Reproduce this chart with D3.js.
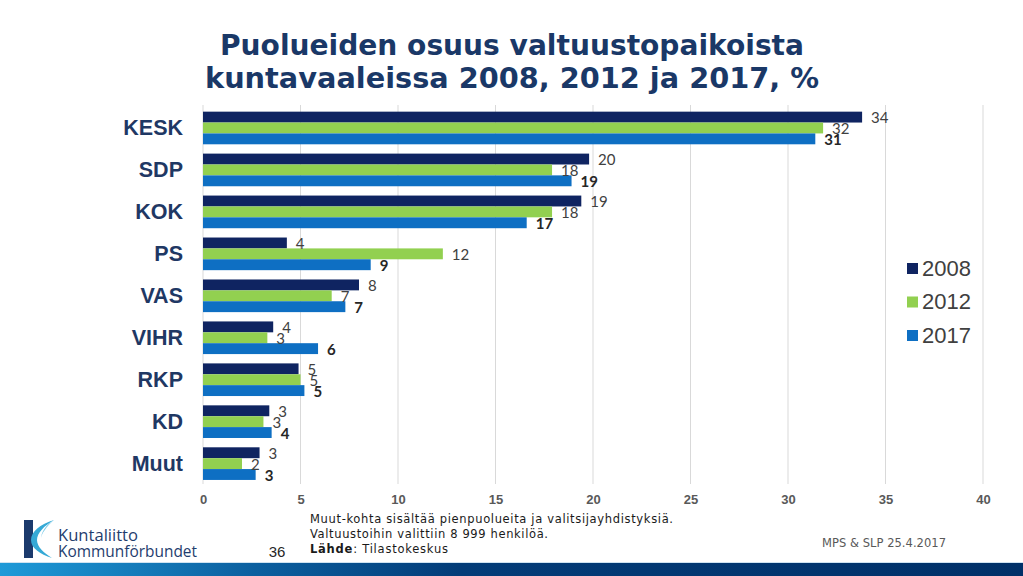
<!DOCTYPE html>
<html>
<head>
<meta charset="utf-8">
<script src="https://cdn.jsdelivr.net/npm/d3@7"></script>
<style>
  html, body { margin: 0; padding: 0; background: #fff; }
  svg { display: block; }
</style>
</head>
<body>
<svg id="chart" width="1023" height="576"></svg>
<script>
// ---- data ----
const categories = ["KESK", "SDP", "KOK", "PS", "VAS", "VIHR", "RKP", "KD", "Muut"];
const years = ["2008", "2012", "2017"];
const values2008 = [33.8, 19.8, 19.4, 4.3, 8.0, 3.6, 4.9, 3.4, 2.9];
const values2012 = [31.8, 17.9, 17.9, 12.3, 6.6, 3.3, 5.0, 3.1, 2.0];
const values2017 = [31.4, 18.9, 16.6, 8.6, 7.3, 5.9, 5.2, 3.52, 2.7];
const xTicks = [0, 5, 10, 15, 20, 25, 30, 35, 40];
const titleLines = ["Puolueiden osuus valtuustopaikoista", "kuntavaaleissa 2008, 2012 ja 2017, %"];
const noteLines = ["Muut-kohta sisältää pienpuolueita ja valitsijayhdistyksiä.", "Valtuustoihin valittiin 8 999 henkilöä."];
const sourceLabel = "Lähde";
const sourceText = ": Tilastokeskus";
const pageNumber = "36";
const authorText = "MPS & SLP 25.4.2017";
const logoLines = ["Kuntaliitto", "Kommunförbundet"];

const seriesValues = [values2008, values2012, values2017];
const colors = ["#0f2461", "#92d050", "#0e6fc3"];

const svg = d3.select("#chart");

// ---- title ----
const title = svg.append("g");
const titleW = [584, 614];
titleLines.forEach((t, i) => {
  title.append("text")
    .attr("x", 512).attr("y", 55 + i * 33)
    .attr("text-anchor", "middle")
    .attr("font-family", "DejaVu Sans")
    .attr("font-weight", "bold")
    .attr("font-size", 28)
    .attr("fill", "#1a3867")
    .attr("textLength", titleW[i])
    .attr("lengthAdjust", "spacingAndGlyphs")
    .text(t);
});

// ---- scales ----
const x = d3.scaleLinear().domain([0, 40]).range([203, 983]);
const y = d3.scaleBand().domain(categories).range([107, 484.6]).paddingInner(0.222).paddingOuter(0.111);
const ySub = d3.scaleBand().domain(years).range([0, y.bandwidth()]);

// gridlines
svg.append("g").selectAll("line").data(xTicks.slice(1)).join("line")
  .attr("x1", d => x(d)).attr("x2", d => x(d))
  .attr("y1", 105).attr("y2", 484)
  .attr("stroke", "#d9d9d9").attr("stroke-width", 1);

// axis
const xAxis = d3.axisBottom(x).tickValues(xTicks).tickSize(0).tickPadding(0);
const ax = svg.append("g").attr("transform", "translate(0,495)").call(xAxis);
ax.select(".domain").remove();
ax.selectAll("text")
  .attr("font-family", "Liberation Sans, Arial")
  .attr("font-weight", "bold")
  .attr("font-size", 13)
  .attr("fill", "#595959")
  .attr("dy", "0.71em");

// zero axis line
svg.append("line").attr("x1", x(0)).attr("x2", x(0)).attr("y1", 105).attr("y2", 484)
  .attr("stroke", "#d9d9d9");

// category labels
const yAxis = d3.axisLeft(y).tickSize(0).tickPadding(0);
const ay = svg.append("g").attr("transform", "translate(183,0)").call(yAxis);
ay.select(".domain").remove();
ay.selectAll("text")
  .attr("font-family", "Liberation Sans, Arial")
  .attr("font-weight", "bold")
  .attr("font-size", 21.5)
  .attr("fill", "#1f3864");

// bars
const rows = [];
categories.forEach((c, ci) => {
  years.forEach((yr, si) => {
    rows.push({ cat: c, year: yr, si: si, v: seriesValues[si][ci] });
  });
});

svg.append("g").selectAll("rect").data(rows).join("rect")
  .attr("x", x(0))
  .attr("y", d => y(d.cat) + ySub(d.year))
  .attr("width", d => x(d.v) - x(0))
  .attr("height", ySub.bandwidth())
  .attr("fill", d => colors[d.si]);

// data labels
svg.append("g").selectAll("text").data(rows).join("text")
  .attr("x", d => x(d.v) + 9)
  .attr("y", d => y(d.cat) + ySub(d.year) + ySub.bandwidth() / 2 + 1)
  .attr("dy", "0.35em")
  .attr("font-family", "Lato, Open Sans")
  .attr("font-size", 15)
  .attr("font-weight", d => d.si === 2 ? "bold" : "normal")
  .attr("fill", d => d.si === 2 ? "#262626" : "#404040")
  .text(d => d3.format(".0f")(d.v));

// legend
const lg = svg.append("g");
years.forEach((yr, i) => {
  const cy = 268 + i * 33.5;
  lg.append("rect").attr("x", 907).attr("y", cy - 5).attr("width", 11).attr("height", 11).attr("fill", colors[i]);
  lg.append("text").attr("x", 922).attr("y", cy).attr("dy", "0.36em")
    .attr("font-family", "Liberation Sans, Arial")
    .attr("font-size", 22)
    .attr("fill", "#404040")
    .text(yr);
});

// notes
const notes = svg.append("g").attr("font-family", "DejaVu Sans, Verdana").attr("font-size", 11.5).attr("fill", "#1a1a1a");
const noteW = [363, 238];
noteLines.forEach((t, i) => {
  notes.append("text").attr("x", 310).attr("y", 523 + i * 15)
    .attr("textLength", noteW[i]).attr("lengthAdjust", "spacing").text(t);
});
const src = notes.append("text").attr("x", 310).attr("y", 553)
  .attr("textLength", 138).attr("lengthAdjust", "spacing");
src.append("tspan").attr("font-weight", "bold").text(sourceLabel);
src.append("tspan").text(sourceText);

svg.append("text").attr("x", 277).attr("y", 557).attr("text-anchor", "middle")
  .attr("font-family", "Liberation Sans, Arial").attr("font-size", 15).attr("fill", "#262626").text(pageNumber);

svg.append("text").attr("x", 884).attr("y", 547).attr("text-anchor", "middle")
  .attr("font-family", "DejaVu Sans, Verdana").attr("font-size", 11.5).attr("fill", "#595959")
  .attr("textLength", 124).attr("lengthAdjust", "spacing").text(authorText);

// bottom band
const defs = svg.append("defs");
const grad = defs.append("linearGradient").attr("id", "band").attr("x1", "0").attr("x2", "1").attr("y1", "0").attr("y2", "0");
grad.append("stop").attr("offset", "0").attr("stop-color", "#1f9ad8");
grad.append("stop").attr("offset", "0.25").attr("stop-color", "#0b5f9f");
grad.append("stop").attr("offset", "0.45").attr("stop-color", "#033c78");
grad.append("stop").attr("offset", "1").attr("stop-color", "#003068");
svg.append("rect").attr("x", 0).attr("y", 563).attr("width", 1023).attr("height", 13).attr("fill", "url(#band)");
svg.append("line").attr("x1", 0).attr("x2", 1023).attr("y1", 562.5).attr("y2", 562.5).attr("stroke", "#cfe3f1");

// logo
const logo = svg.append("g");
logo.append("rect").attr("x", 24).attr("y", 520).attr("width", 9).attr("height", 38).attr("fill", "#1b3a6c");
logo.append("path")
  .attr("d", "M54,520 C40,524 31,532 31,540 C31,548 40,554 52,558 C44,553 37,547 37,540 C37,533 44,526 54,520 Z")
  .attr("fill", "#35a9d6");
logo.append("path")
  .attr("d", "M54,520 C46,525 41,532 41,539 C41,534 47,526 54,520 Z")
  .attr("fill", "#7dcbe8");
const logoW = [80, 139];
logoLines.forEach((t, i) => {
  logo.append("text").attr("x", 58).attr("y", 541 + i * 16)
    .attr("font-family", "Open Sans")
    .attr("font-size", 15.5)
    .attr("fill", "#1f3d6e")
    .attr("textLength", logoW[i]).attr("lengthAdjust", "spacingAndGlyphs")
    .text(t);
});
</script>
</body>
</html>
